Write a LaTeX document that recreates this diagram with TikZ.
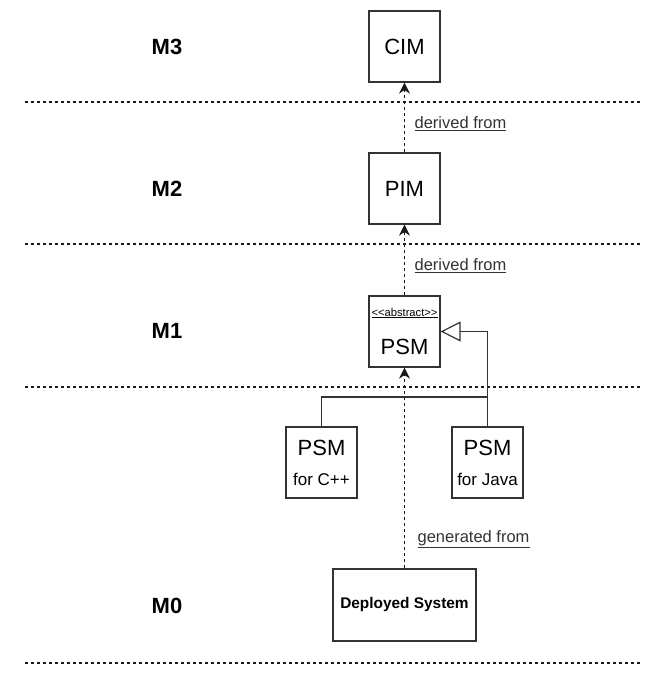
\documentclass[tikz,border=0pt]{standalone}
\usepackage{fontspec}
\setmainfont{Liberation Sans}
\usetikzlibrary{arrows.meta}
\begin{document}
\begin{tikzpicture}[x=1pt,y=-1pt,
	box/.style={draw=black!80,line width=1.2pt,minimum width=71pt,minimum height=71pt,inner sep=0pt,align=center,font=\fontsize{22}{26}\selectfont},
	lvl/.style={font=\bfseries\fontsize{22}{26}\selectfont},
	sep/.style={draw=black!90,dash pattern=on 3pt off 3pt,line width=1.2pt},
	dep/.style={draw=black!90,dash pattern=on 3pt off 3pt,line width=1.2pt,-{Stealth[length=11pt,width=11pt,inset=3.5pt]}},
	gen/.style={draw=black!80,line width=1.2pt,-{Triangle[open,length=20pt,width=20pt]}},
	lbl/.style={anchor=west,inner sep=0pt,font=\fontsize{16.5}{20}\selectfont,text=black!80}]
	\useasboundingbox(0,0)rectangle(661,674);
	\foreach \y in{102,244,387,663}{
		\draw[sep](25,\y)--(640,\y);
	}
	\foreach \t/\y in{M3/47,M2/189,M1/331,M0/606}{
		\node[lvl](\t)at(167,\y){\t};
	}
	\node[box](cim)at(404.5,46.5){CIM};
	\node[box](pim)at(404.5,188.5){PIM};
	\node[box](psm)at(404.5,331.5){};
	\node[inner sep=0pt,font=\fontsize{11.2}{13}\selectfont](abs)at(404.5,313){\underline{<\kern0pt<abstract>\kern0pt>}};
	\node[inner sep=0pt,font=\fontsize{22}{26}\selectfont](psmname)at(404.5,347){PSM};
	\node[box](cpp)at(321.5,462.5){PSM\\[4pt]{\fontsize{17}{20}\selectfont for C++}};
	\node[box](java)at(487.5,462.5){PSM\\[4pt]{\fontsize{17}{20}\selectfont for Java}};
	\node[box,minimum width=143pt,minimum height=72pt,font=\bfseries\fontsize{15.4}{18}\selectfont](sys)at(404.5,605){Deployed System};
	\draw[dep](pim)--node[lbl,pos=.41,xshift=9.5pt]{\underline{derived from}}(cim);
	\draw[dep](psm)--node[lbl,pos=.42,xshift=9.5pt]{\underline{derived from}}(pim);
	\draw[dep](sys)--node[lbl,pos=.144,xshift=12.5pt]{\underline{generated from}}(psm);
	\coordinate(jn)at(java.north|-0,397);
	\draw[gen](java.north)|-(psm.east);
	\draw[draw=black!80,line width=1.2pt](cpp.north)|-(jn);
\end{tikzpicture}
\end{document}
